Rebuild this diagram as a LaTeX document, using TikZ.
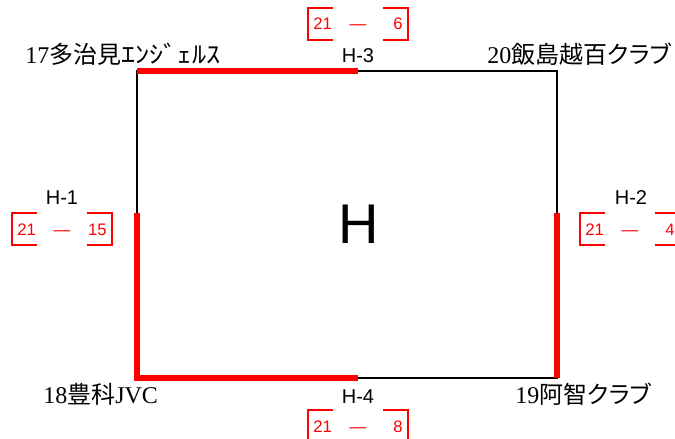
\documentclass[tikz,border=0pt]{standalone}
\usepackage{fontspec}
\setmainfont{Liberation Serif}
\setsansfont{Liberation Sans}
\newfontfamily\cjk{Noto Sans CJK JP}
\newfontfamily\kana[RawFeature=+palt]{Noto Sans CJK JP}
\newfontfamily\hankaku[FakeStretch=1.18]{Noto Sans CJK JP}

\begin{document}
\begin{tikzpicture}[x=0.75pt, y=-0.75pt,
  team/.style={font=\fontsize{18}{20}\selectfont, inner sep=0pt, anchor=base west},
  match/.style={font=\sffamily\fontsize{15}{17}\selectfont, inner sep=0pt, anchor=base},
  pts/.style={font=\sffamily\fontsize{12.5}{14}\selectfont, text=red, inner sep=0pt},
  court/.style={line width=1.1pt, line join=miter},
  win/.style={red, line width=4pt, line join=miter},
  bracket/.style={red, line width=0.8pt}]

\clip (0,0) rectangle (675,439);

% ── Esquinas del cuadro ───────────────────────────────────────
\coordinate (c17) at (137, 71);
\coordinate (c20) at (557, 71);
\coordinate (c19) at (557,378);
\coordinate (c18) at (137,378);
\coordinate (m3)  at (358, 71);
\coordinate (m4)  at (358,378);
\coordinate (r1)  at (137,213);
\coordinate (r2)  at (557,213);

% ── Cuadro y partidos ganados ─────────────────────────────────
\draw[court] (c17) -- (c20) -- (c19) -- (c18) -- cycle;
\draw[win] (c17) -- (m3);
\draw[win] (r1) -- (c18) -- (m4);
\draw[win] (r2) -- (c19);

\node[font=\sffamily\fontsize{42}{44}\selectfont, inner sep=0pt, anchor=base]
    (pool) at (359,243) {H};

% ── Equipos ───────────────────────────────────────────────────
\node[team] (t17) at (25, 63)  {17{\cjk 多治見}{\hankaku ｴﾝｼﾞｪﾙｽ}};
\node[team] (t20) at (487, 63) {20{\cjk 飯島越百}{\kana クラブ}};
\node[team] (t18) at (43, 403) {18{\cjk 豊科}JVC};
\node[team] (t19) at (515, 403) {19{\cjk 阿智}{\kana クラブ}};

% ── H-3 (arriba) ──────────────────────────────────────────────
\node[match] (h3) at (358, 62) {H-3};
\draw[bracket] (333,8) -- (308,8) -- (308,40) -- (333,40);
\draw[bracket] (383,8) -- (408,8) -- (408,40) -- (383,40);
\node[pts, anchor=base west] (h3a) at (313,30) {21};
\node[pts, anchor=base]      (h3d) at (358,30) {—};
\node[pts, anchor=base east] (h3b) at (403,30) {6};

% ── H-4 (abajo) ───────────────────────────────────────────────
\node[match] (h4) at (358, 403) {H-4};
\draw[bracket] (333,410) -- (308,410) -- (308,442) -- (333,442);
\draw[bracket] (383,410) -- (408,410) -- (408,442) -- (383,442);
\node[pts, anchor=base west] (h4a) at (313,432) {21};
\node[pts, anchor=base]      (h4d) at (358,432) {—};
\node[pts, anchor=base east] (h4b) at (403,432) {8};

% ── H-1 (izquierda) ───────────────────────────────────────────
\node[match] (h1) at (62, 204) {H-1};
\draw[bracket] (37,213) -- (12,213) -- (12,245) -- (37,245);
\draw[bracket] (87,213) -- (112,213) -- (112,245) -- (87,245);
\node[pts, anchor=base west] (h1a) at (17,235) {21};
\node[pts, anchor=base]      (h1d) at (62,235) {—};
\node[pts, anchor=base east] (h1b) at (107,235) {15};

% ── H-2 (derecha) ─────────────────────────────────────────────
\node[match] (h2) at (631, 204) {H-2};
\draw[bracket] (605,213) -- (580,213) -- (580,245) -- (605,245);
\draw[bracket] (655,213) -- (680,213) -- (680,245) -- (655,245);
\node[pts, anchor=base west] (h2a) at (585,235) {21};
\node[pts, anchor=base]      (h2d) at (630,235) {—};
\node[pts, anchor=base east] (h2b) at (675,235) {4};

\end{tikzpicture}
\end{document}
